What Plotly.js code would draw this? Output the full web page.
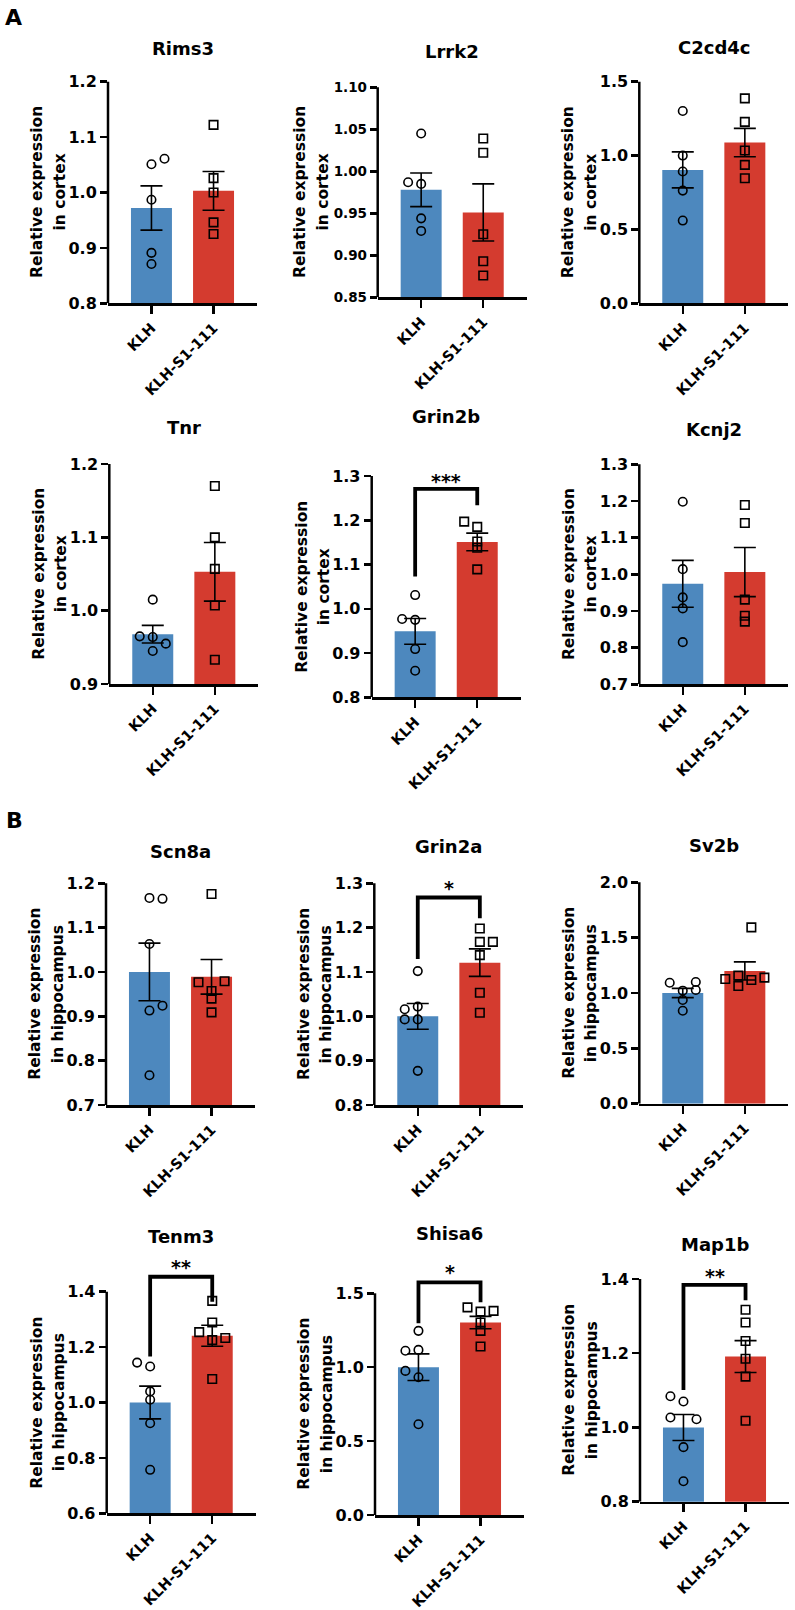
<!DOCTYPE html>
<html><head><meta charset="utf-8">
<script src="https://cdn.plot.ly/plotly-3.0.1.min.js"></script>
<style>html,body{margin:0;padding:0;background:#fff}</style>
</head><body><div id="chart" style="width:795px;height:1610px"></div>
<script>
// ---------- DATA ----------
const genes = ['Rims3','Lrrk2','C2cd4c','Tnr','Grin2b','Kcnj2','Scn8a','Grin2a','Sv2b','Tenm3','Shisa6','Map1b'];
const region = ['cortex','cortex','cortex','cortex','cortex','cortex','hippocampus','hippocampus','hippocampus','hippocampus','hippocampus','hippocampus'];
const groups = ['KLH','KLH-S1-111'];
const yTitleLine1 = 'Relative expression';

const klhMean = [0.972, 0.978, 0.903, 0.968, 0.949, 0.974, 1.000, 1.000, 1.000, 1.000, 1.000, 1.000];
const klhSem  = [0.040, 0.020, 0.122, 0.012, 0.029, 0.064, 0.065, 0.029, 0.042, 0.059, 0.090, 0.035];
const s1Mean  = [1.003, 0.951, 1.088, 1.053, 1.151, 1.006, 0.989, 1.121, 1.199, 1.241, 1.302, 1.191];
const s1Sem   = [0.035, 0.034, 0.096, 0.040, 0.020, 0.067, 0.039, 0.031, 0.082, 0.038, 0.042, 0.043];

const klhPoints = [
  [1.051, 1.061, 0.987, 0.891, 0.871],
  [1.045, 0.987, 0.985, 0.944, 0.929],
  [1.302, 1.000, 0.892, 0.763, 0.560],
  [1.015, 0.965, 0.964, 0.955, 0.945],
  [1.031, 0.977, 0.975, 0.909, 0.860],
  [1.198, 1.014, 0.937, 0.907, 0.815],
  [1.167, 1.165, 1.063, 0.924, 0.913, 0.767],
  [1.102, 1.022, 1.016, 0.993, 0.993, 0.877],
  [1.099, 1.093, 1.027, 1.021, 0.937, 0.840],
  [1.144, 1.130, 1.040, 1.010, 0.925, 0.757],
  [1.246, 1.117, 1.111, 0.975, 0.932, 0.614],
  [1.084, 1.070, 1.027, 1.022, 0.947, 0.855]
];
const s1Points = [
  [1.122, 1.026, 1.000, 0.946, 0.925],
  [1.039, 1.022, 0.925, 0.893, 0.876],
  [1.387, 1.228, 1.034, 0.937, 0.846],
  [1.170, 1.100, 1.057, 1.007, 0.933],
  [1.197, 1.185, 1.152, 1.138, 1.089],
  [1.189, 1.140, 0.931, 0.887, 0.871],
  [1.176, 0.979, 0.977, 0.957, 0.940, 0.909],
  [1.198, 1.168, 1.168, 1.138, 1.053, 1.008],
  [1.593, 1.157, 1.139, 1.127, 1.117, 1.063],
  [1.367, 1.289, 1.254, 1.233, 1.225, 1.085],
  [1.405, 1.381, 1.376, 1.302, 1.246, 1.140],
  [1.317, 1.283, 1.233, 1.185, 1.137, 1.018]
];

const yRange = [[0.8,1.2],[0.85,1.10],[0,1.5],[0.9,1.2],[0.8,1.3],[0.7,1.3],[0.7,1.2],[0.8,1.3],[0,2],[0.6,1.4],[0,1.5],[0.8,1.4]];
const yTicks = [
  [0.8,0.9,1.0,1.1,1.2],
  [0.85,0.90,0.95,1.00,1.05,1.10],
  [0,0.5,1.0,1.5],
  [0.9,1.0,1.1,1.2],
  [0.8,0.9,1.0,1.1,1.2,1.3],
  [0.7,0.8,0.9,1.0,1.1,1.2,1.3],
  [0.7,0.8,0.9,1.0,1.1,1.2],
  [0.8,0.9,1.0,1.1,1.2,1.3],
  [0,0.5,1.0,1.5,2.0],
  [0.6,0.8,1.0,1.2,1.4],
  [0,0.5,1.0,1.5],
  [0.8,1.0,1.2,1.4]
];
const tickDecimals = [1,2,1,1,1,1,1,1,1,1,1,1];

// significance brackets: gene index, left leg end, bracket top, right leg end, star position, label
const sigGene  = [4, 7, 9, 10, 11];
const sigLeft  = [1.073, 1.129, 1.166, 1.298, 1.101];
const sigTop   = [1.271, 1.268, 1.454, 1.574, 1.384];
const sigRight = [1.234, 1.221, 1.364, 1.440, 1.343];
const sigStarY = [1.295, 1.296, 1.500, 1.662, 1.417];
const sigText  = ['***', '*', '**', '*', '**'];

// ---------- LAYOUT (pixel placement of each panel, not data) ----------
const klhSlot = [
  [0,1,0,0,0],[0,-1,0,0,0],[0,0,0,0,0],[0,-1,0,1,0],[0,-1,0,0,0],[0,0,0,0,0],
  [0,1,0,1,0,0],[0,0,-1,-1,0,0],[1,-1,1,0,0,0],[-1,0,0,0,0,0],[0,0,-1,-1,0,0],[-1,0,-1,1,0,0]
];
const s1Slot = [
  [0,0,0,0,0],[0,0,0,0,0],[0,0,0,0,0],[0,0,0,0,0],[-1,0,0,0,0],[0,0,0,0,0],
  [0,1,-1,0,0,0],[0,0,1,0,0,0],[0.5,-0.5,1.5,-1.5,0.5,-0.5],[0,0,-1,1,0,0],[-1,1,0,0,0,0],[0,0,0,0,0,0]
];
const geom = [
  {L:108,  T:81.7,   B:303.3,  ty:48,     tx:70.5},
  {L:377.7,T:87.3,   B:297.3,  ty:52,     tx:77},
  {L:639.3,T:81.7,   B:303.3,  ty:47,     tx:70.5},
  {L:109.3,T:464,    B:684,    ty:427.7,  tx:70.5},
  {L:371.7,T:476,    B:697.3,  ty:416.7,  tx:70.5},
  {L:639.3,T:464.3,  B:684.3,  ty:429,    tx:70.5},
  {L:106,  T:883.3,  B:1105,   ty:851.7,  tx:70.5},
  {L:374.3,T:883.3,  B:1105,   ty:846.7,  tx:70.5},
  {L:639.3,T:882.3,  B:1103.7, ty:846,    tx:70.5},
  {L:106.7,T:1291.7, B:1513.3, ty:1236,   tx:70.5},
  {L:375,  T:1293.3, B:1515,   ty:1233.3, tx:70.5},
  {L:640,  T:1279,   B:1501.7, ty:1244.3, tx:70.5}
];
const W = 795, H = 1610, PW = 149, PAD = 45, SLOT = 0.21;
const FONT = 'DejaVu Sans, Liberation Sans, Arial, sans-serif';
const BLUE = '#4d88be', RED = '#d43b2f';

const layout = {
  width: W, height: H, margin: {l:0, r:0, t:0, b:0},
  paper_bgcolor: '#fff', plot_bgcolor: 'rgba(0,0,0,0)', showlegend: false,
  font: {family: FONT, color: '#000'},
  shapes: [], annotations: []
};
const data = [];

genes.forEach((g, i) => {
  const n = i + 1, sfx = n > 1 ? String(n) : '';
  const xr = 'x' + sfx, yr = 'y' + sfx;
  const G = geom[i];
  const lo = yRange[i][0], hi = yRange[i][1];
  const hiExt = hi + PAD * (hi - lo) / (G.B - G.T);
  const tickSize = (i === 1) ? 13.5 : 16;

  layout['xaxis' + sfx] = {
    domain: [G.L / W, (G.L + PW) / W], anchor: yr, range: [-0.7, 1.7],
    tickvals: [0, 1], ticktext: groups, tickangle: -45,
    showline: true, linewidth: 2.5, linecolor: '#000',
    ticks: 'outside', ticklen: 8, tickwidth: 2.5, tickcolor: '#000',
    tickfont: {family: FONT, size: 14.5, weight: 'bold', color: '#000'},
    showgrid: false, zeroline: false, fixedrange: true
  };
  layout['yaxis' + sfx] = {
    domain: [1 - G.B / H, 1 - (G.T - PAD) / H], anchor: xr, range: [lo, hiExt],
    tickvals: yTicks[i], ticktext: yTicks[i].map(v => v.toFixed(tickDecimals[i])),
    showline: false, ticks: 'outside', ticklen: 7, tickwidth: 2.5, tickcolor: '#000',
    tickfont: {family: FONT, size: tickSize, weight: 'bold', color: '#000'},
    showgrid: false, zeroline: false, fixedrange: true
  };
  // y axis line up to the top tick only
  layout.shapes.push({type: 'line', xref: xr + ' domain', yref: yr, x0: 0, x1: 0, y0: lo, y1: hi,
    line: {color: '#000', width: 2.5}});
  // panel title
  layout.annotations.push({xref: 'paper', yref: 'paper', x: (G.L + PW / 2) / W, y: 1 - G.ty / H,
    xanchor: 'center', yanchor: 'middle', showarrow: false, text: g,
    font: {family: FONT, size: 18, weight: 'bold', color: '#000'}});
  // y axis title, two lines
  const yMid = 1 - (G.T + G.B) / 2 / H;
  [yTitleLine1, 'in ' + region[i]].forEach((txt, li) => {
    layout.annotations.push({xref: 'paper', yref: 'paper', x: (G.L - G.tx + li * 22.5) / W, y: yMid,
      xanchor: 'center', yanchor: 'middle', textangle: -90, showarrow: false, text: txt,
      font: {family: FONT, size: 15.5, weight: 'bold', color: '#000'}});
  });

  data.push({type: 'bar', x: [0, 1], y: [klhMean[i], s1Mean[i]], width: 0.66,
    marker: {color: [BLUE, RED], line: {width: 0}}, xaxis: xr, yaxis: yr, hoverinfo: 'skip'});
  data.push({type: 'scatter', mode: 'markers', xaxis: xr, yaxis: yr, hoverinfo: 'skip',
    x: klhPoints[i].map((v, k) => 0 + klhSlot[i][k] * SLOT), y: klhPoints[i],
    marker: {symbol: 'circle-open', size: 8.5, color: '#000', line: {width: 1.6, color: '#000'}}, cliponaxis: false});
  data.push({type: 'scatter', mode: 'markers', xaxis: xr, yaxis: yr, hoverinfo: 'skip',
    x: s1Points[i].map((v, k) => 1 + s1Slot[i][k] * SLOT), y: s1Points[i],
    marker: {symbol: 'square-open', size: 8.5, color: '#000', line: {width: 1.6, color: '#000'}}, cliponaxis: false});
  data.push({type: 'scatter', mode: 'markers', xaxis: xr, yaxis: yr, hoverinfo: 'skip',
    x: [0, 1], y: [klhMean[i], s1Mean[i]],
    marker: {size: 1, color: 'rgba(0,0,0,0)'},
    error_y: {type: 'data', array: [klhSem[i], s1Sem[i]], visible: true, color: '#000', thickness: 1.6, width: 11}});
});

sigGene.forEach((gi, k) => {
  const sfx = gi > 0 ? String(gi + 1) : '';
  const xr = 'x' + sfx, yr = 'y' + sfx;
  layout.shapes.push({type: 'path', xref: xr, yref: yr,
    path: 'M0,' + sigLeft[k] + ' L0,' + sigTop[k] + ' L1,' + sigTop[k] + ' L1,' + sigRight[k],
    line: {color: '#000', width: 3.8}});
  layout.annotations.push({xref: xr, yref: yr, x: 0.5, y: sigStarY[k], text: sigText[k],
    showarrow: false, xanchor: 'center', yanchor: 'middle', yshift: -3,
    font: {family: FONT, size: 19, weight: 'bold', color: '#000'}});
});

// panel letters
layout.annotations.push({xref: 'paper', yref: 'paper', x: 3 / W, y: 1 - 17.5 / H, xanchor: 'left', yanchor: 'middle',
  showarrow: false, text: 'A', font: {family: FONT, size: 22, weight: 'bold', color: '#000'}});
layout.annotations.push({xref: 'paper', yref: 'paper', x: 4 / W, y: 1 - 820.5 / H, xanchor: 'left', yanchor: 'middle',
  showarrow: false, text: 'B', font: {family: FONT, size: 22, weight: 'bold', color: '#000'}});

Plotly.newPlot('chart', data, layout, {staticPlot: true, displayModeBar: false});
</script>
</body></html>
